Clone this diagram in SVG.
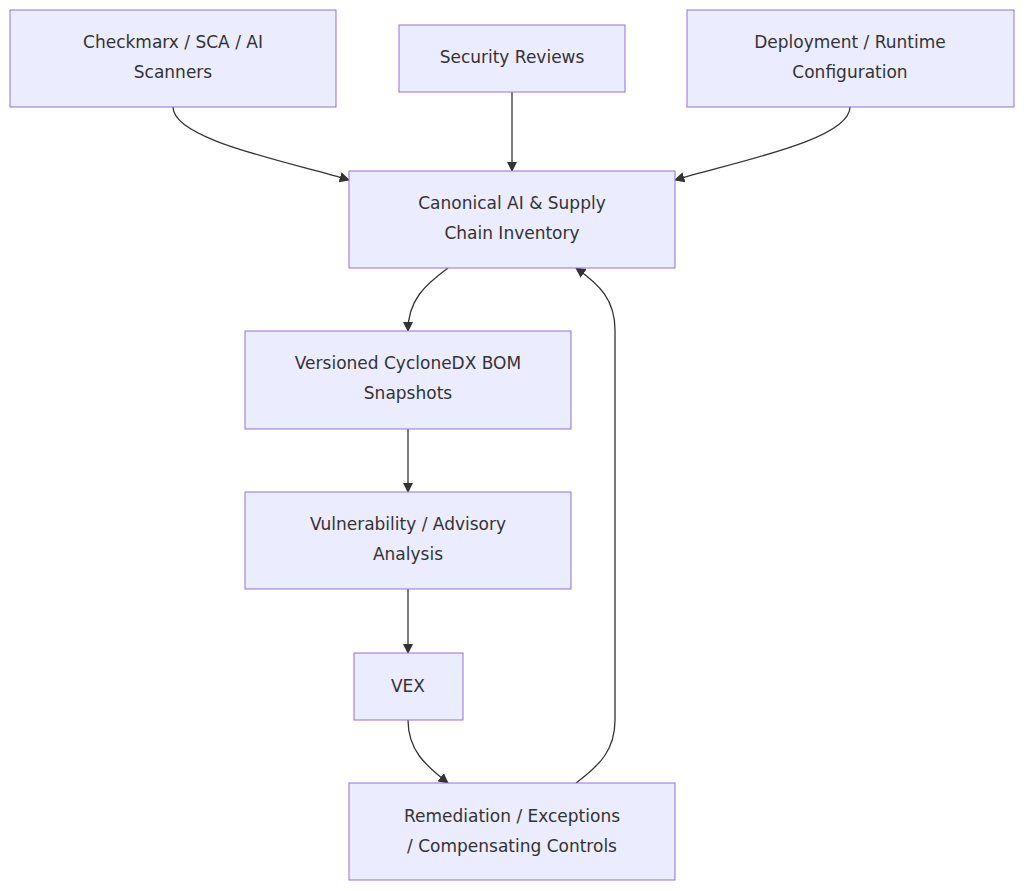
<svg xmlns="http://www.w3.org/2000/svg" width="1024" height="891" viewBox="0 0 1024 891">
<style>
.n rect{fill:#ECECFF;stroke:#9370DB;stroke-width:1}
.n text{font-family:"DejaVu Sans",sans-serif;font-size:17px;fill:#333;text-anchor:middle;dominant-baseline:middle}
.e path{fill:none;stroke:#333;stroke-width:1.3;marker-end:url(#a)}
</style>
<defs><marker id="a" viewBox="0 0 10 10" refX="9" refY="5" markerWidth="8" markerHeight="8" orient="auto-start-reverse"><path d="M0,0L10,5L0,10z" fill="#333"/></marker></defs>
<rect width="1024" height="891" fill="#fff"/>
<g class="e">
<path d="M173,107 C173,140 290,162 349,180"/>
<path d="M512,92 L512,171"/>
<path d="M850,107 C850,140 735,162 675,180"/>
<path d="M448,268 C425,285 408,300 408,331"/>
<path d="M408,429 L408,492"/>
<path d="M408,589 L408,653"/>
<path d="M408,720 C408,750 425,765 448,783"/>
<path d="M576,783 C600,765 615,750 615,720 L615,330 C615,300 600,285 576,268"/>
</g>
<g id="n1" class="n"><rect x="10" y="10" width="326" height="97"/><text x="173" y="43">Checkmarx / SCA / AI</text><text x="173" y="73">Scanners</text></g>
<g id="n2" class="n"><rect x="399" y="25" width="226" height="67"/><text x="512" y="58">Security Reviews</text></g>
<g id="n3" class="n"><rect x="687" y="10" width="327" height="97"/><text x="850" y="43">Deployment / Runtime</text><text x="850" y="73">Configuration</text></g>
<g id="n4" class="n"><rect x="349" y="171" width="326" height="97"/><text x="512" y="204">Canonical AI &amp; Supply</text><text x="512" y="234">Chain Inventory</text></g>
<g id="n5" class="n"><rect x="245" y="331" width="326" height="98"/><text x="408" y="364">Versioned CycloneDX BOM</text><text x="408" y="394">Snapshots</text></g>
<g id="n6" class="n"><rect x="245" y="492" width="326" height="97"/><text x="408" y="525">Vulnerability / Advisory</text><text x="408" y="555">Analysis</text></g>
<g id="n7" class="n"><rect x="354" y="653" width="109" height="67"/><text x="408" y="687">VEX</text></g>
<g id="n8" class="n"><rect x="349" y="783" width="326" height="97"/><text x="512" y="817">Remediation / Exceptions</text><text x="512" y="847">/ Compensating Controls</text></g>
</svg>
